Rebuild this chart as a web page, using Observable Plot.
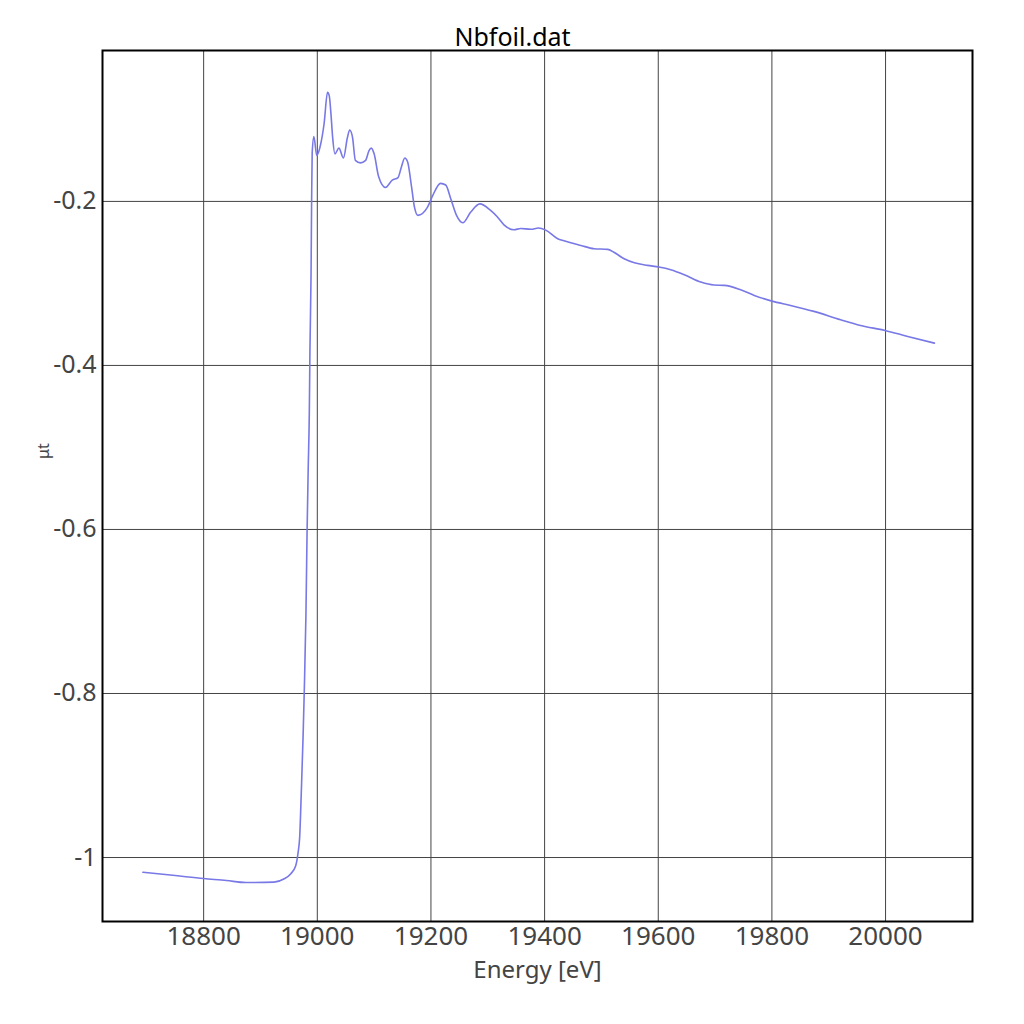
<!DOCTYPE html>
<html><head><meta charset="utf-8">
<script src="https://cdn.jsdelivr.net/npm/d3@7"></script>
<script src="https://cdn.jsdelivr.net/npm/@observablehq/plot@0.6"></script>
<style>body{margin:0;background:#fff;} svg{display:block;}</style>
</head><body><div id="chart"></div>
<script>
const title = "Nbfoil.dat";
const xLabel = "Energy [eV]";
const yLabel = "μt";
const xTicks = [18800, 19000, 19200, 19400, 19600, 19800, 20000];
const yTicks = [-0.2, -0.4, -0.6, -0.8, -1];
const energy = [18693, 18750, 18800, 18840, 18874, 18924, 18941, 18953, 18962, 18966, 18969, 18972, 18975, 18977, 18980, 18982, 18984, 18986, 18987, 18989, 18990, 18991, 18994, 18999, 19006, 19012, 19018, 19021, 19024, 19027, 19031, 19038, 19046, 19053, 19057, 19062, 19067, 19076, 19085, 19091, 19095, 19100, 19108, 19120, 19132, 19142, 19148, 19154, 19159, 19166, 19171, 19177, 19194, 19203, 19217, 19226, 19235, 19245, 19256, 19270, 19286, 19305, 19317, 19329, 19346, 19358, 19376, 19389, 19402, 19423, 19434, 19464, 19487, 19511, 19522, 19540, 19558, 19581, 19601, 19622, 19646, 19675, 19698, 19716, 19745, 19769, 19800, 19833, 19874, 19921, 19956, 19999, 20039, 20086];
const mu = [-1.018, -1.022, -1.0256, -1.028, -1.0305, -1.030, -1.0262, -1.020, -1.010, -0.995, -0.975, -0.917, -0.852, -0.799, -0.704, -0.603, -0.526, -0.455, -0.384, -0.289, -0.200, -0.141, -0.121, -0.144, -0.130, -0.105, -0.067, -0.071, -0.093, -0.122, -0.142, -0.135, -0.147, -0.122, -0.113, -0.122, -0.150, -0.153, -0.150, -0.138, -0.135, -0.142, -0.170, -0.183, -0.174, -0.171, -0.158, -0.147, -0.152, -0.183, -0.207, -0.217, -0.207, -0.193, -0.178, -0.180, -0.197, -0.217, -0.226, -0.213, -0.203, -0.211, -0.219, -0.229, -0.2346, -0.233, -0.234, -0.2325, -0.235, -0.2455, -0.248, -0.2537, -0.2577, -0.2585, -0.262, -0.270, -0.2748, -0.278, -0.280, -0.2833, -0.2894, -0.2984, -0.302, -0.3024, -0.3077, -0.3146, -0.3216, -0.3268, -0.3341, -0.3443, -0.3512, -0.3573, -0.3646, -0.3728];
const data = energy.map((e, i) => ({e, v: mu[i]}));
const font = "'Noto Sans', sans-serif";

const chart = Plot.plot({
  width: 1024, height: 1024,
  marginLeft: 102, marginRight: 52, marginTop: 50, marginBottom: 103,
  style: {fontFamily: font, background: "#fff"},
  x: {domain: [18622, 20153], ticks: xTicks, tickFormat: d => String(d), label: null},
  y: {domain: [-1.078, -0.016], ticks: yTicks, tickFormat: d => String(d), label: null},
  marks: [
    Plot.gridX(xTicks, {stroke: "#444", strokeOpacity: 1, strokeWidth: 1}),
    Plot.gridY(yTicks, {stroke: "#444", strokeOpacity: 1, strokeWidth: 1}),
    Plot.axisX(xTicks, {tickSize: 0, tickPadding: 5, fontSize: 26, fill: "#444", tickFormat: d => String(d), label: null}),
    Plot.axisY(yTicks, {tickSize: 0, tickPadding: 6, fontSize: 25, fill: "#444", tickFormat: d => String(d), label: null}),
    Plot.line(data, {x: "e", y: "v", stroke: "#7878e6", strokeWidth: 1.6, curve: "monotone-x"}),
    Plot.frame({stroke: "#000", strokeWidth: 2}),
    Plot.text([title], {frameAnchor: "top", dx: -25, dy: -5, lineAnchor: "bottom", fontSize: 25, fill: "#000", text: d => d}),
    Plot.text([xLabel], {frameAnchor: "bottom", dy: 56, lineAnchor: "bottom", fontSize: 24, fill: "#444", text: d => d}),
    Plot.text([yLabel], {frameAnchor: "left", dx: -59, dy: -27, rotate: -90, fontSize: 16, fill: "#444", text: d => d})
  ]
});
document.getElementById("chart").appendChild(chart);
</script></body></html>
